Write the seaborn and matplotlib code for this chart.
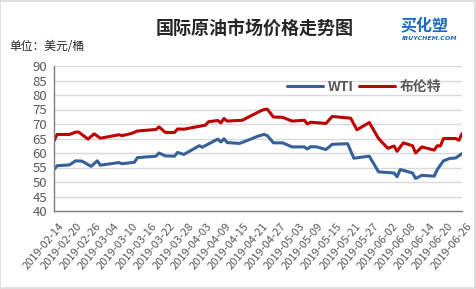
import matplotlib
matplotlib.use("Agg")
import matplotlib.pyplot as plt
import matplotlib.dates as mdates
import matplotlib.transforms as mtransforms
import seaborn as sns
import pandas as pd
from matplotlib.patches import Rectangle

# ---- data ----
wti_dates = ["2019-02-14", "2019-02-15", "2019-02-19", "2019-02-21", "2019-02-23", "2019-02-26",
             "2019-02-28", "2019-03-01", "2019-03-07", "2019-03-08", "2019-03-12", "2019-03-13",
             "2019-03-19", "2019-03-20", "2019-03-22", "2019-03-25", "2019-03-26", "2019-03-28",
             "2019-04-02", "2019-04-03", "2019-04-08", "2019-04-09", "2019-04-10", "2019-04-11",
             "2019-04-15", "2019-04-17", "2019-04-21", "2019-04-23", "2019-04-24", "2019-04-26",
             "2019-04-29", "2019-05-02", "2019-05-06", "2019-05-07", "2019-05-08", "2019-05-10",
             "2019-05-13", "2019-05-15", "2019-05-20", "2019-05-22", "2019-05-27", "2019-05-30",
             "2019-06-04", "2019-06-05", "2019-06-06", "2019-06-10", "2019-06-11", "2019-06-13",
             "2019-06-17", "2019-06-18", "2019-06-20", "2019-06-22", "2019-06-24", "2019-06-26"]
wti_values = [54.3, 55.6, 55.9, 57.3, 57.2, 55.4,
              57.3, 55.8, 56.7, 56.3, 56.8, 58.4,
              58.9, 60.0, 59.0, 58.9, 60.2, 59.5,
              62.5, 62.0, 64.8, 63.8, 64.9, 63.6,
              63.3, 64.1, 65.8, 66.4, 66.0, 63.5,
              63.5, 62.1, 62.1, 61.4, 62.2, 62.1,
              61.2, 63.0, 63.2, 58.2, 58.9, 53.5,
              53.1, 51.8, 54.3, 53.1, 51.2, 52.3,
              52.0, 54.3, 57.3, 58.1, 58.3, 59.8]

brent_dates = ["2019-02-14", "2019-02-15", "2019-02-19", "2019-02-21", "2019-02-22", "2019-02-25",
               "2019-02-27", "2019-03-01", "2019-03-07", "2019-03-08", "2019-03-11", "2019-03-13",
               "2019-03-19", "2019-03-20", "2019-03-22", "2019-03-25", "2019-03-26", "2019-03-28",
               "2019-04-04", "2019-04-05", "2019-04-08", "2019-04-09", "2019-04-10", "2019-04-11",
               "2019-04-16", "2019-04-17", "2019-04-22", "2019-04-23", "2019-04-24", "2019-04-26",
               "2019-04-29", "2019-05-02", "2019-05-06", "2019-05-07", "2019-05-08", "2019-05-13",
               "2019-05-15", "2019-05-21", "2019-05-23", "2019-05-27", "2019-05-30", "2019-06-02",
               "2019-06-04", "2019-06-05", "2019-06-07", "2019-06-10", "2019-06-11", "2019-06-13",
               "2019-06-17", "2019-06-18", "2019-06-19", "2019-06-20", "2019-06-24", "2019-06-25",
               "2019-06-26"]
brent_values = [64.2, 66.4, 66.4, 67.2, 67.2, 64.8,
                66.6, 65.1, 66.3, 66.0, 66.7, 67.6,
                68.1, 69.0, 67.1, 67.1, 68.3, 68.2,
                69.6, 70.8, 71.2, 70.4, 71.9, 71.0,
                71.3, 71.9, 74.6, 75.0, 75.1, 72.4,
                72.3, 71.0, 71.3, 70.0, 70.6, 70.2,
                72.6, 72.0, 68.0, 70.5, 65.0, 61.6,
                62.4, 60.6, 63.5, 62.5, 60.0, 62.1,
                61.0, 62.5, 62.4, 65.0, 65.0, 64.4,
                66.7]

series_names = ["WTI", "布伦特"]
series_colors = ["#36609A", "#C00000"]

title_text = "国际原油市场价格走势图"
unit_text = "单位：美元/桶"

# ---- build frame ----
df = pd.concat([
    pd.DataFrame({"date": pd.to_datetime(wti_dates), "price": wti_values, "series": series_names[0]}),
    pd.DataFrame({"date": pd.to_datetime(brent_dates), "price": brent_values, "series": series_names[1]}),
], ignore_index=True)

sns.set_style("white")
plt.rcParams["font.family"] = ["Noto Sans CJK SC", "DejaVu Sans"]

fig = plt.figure(figsize=(4.76, 2.89), dpi=100)
ax = fig.add_axes([54 / 476, 1 - 211 / 289, (462 - 54) / 476, (211 - 66) / 289])

sns.lineplot(data=df, x="date", y="price", hue="series", hue_order=series_names,
             palette=series_colors, linewidth=2.2, ax=ax, estimator=None, sort=True)

ax.set_xlim(pd.Timestamp("2019-02-14"), pd.Timestamp("2019-06-26"))
ax.set_ylim(40, 90)
ax.set_yticks(range(40, 91, 5))
ticks = pd.date_range("2019-02-14", "2019-06-26", freq="6D")
ax.set_xticks(ticks)
ax.xaxis.set_major_formatter(mdates.DateFormatter("%Y-%m-%d"))
ax.set_xlabel("")
ax.set_ylabel("")

ax.grid(axis="y", color="#D9D9D9", linewidth=1)
ax.set_axisbelow(True)
for side in ["top", "right"]:
    ax.spines[side].set_visible(False)
for side in ["left", "bottom"]:
    ax.spines[side].set_color("#7F7F7F")
    ax.spines[side].set_linewidth(1)

ax.tick_params(axis="y", length=0, pad=5, labelsize=9.5, labelcolor="#595959")
ax.tick_params(axis="x", length=0, pad=7, labelsize=8, labelcolor="#595959")
shift = mtransforms.ScaledTranslation(4 / 100, 0, fig.dpi_scale_trans)
for lab in ax.get_xticklabels():
    lab.set_rotation(50)
    lab.set_ha("right")
    lab.set_rotation_mode("anchor")
    lab.set_transform(lab.get_transform() + shift)

leg = ax.legend(loc="center", bbox_to_anchor=(0.76, 0.855), ncol=2, frameon=False,
                handlelength=2.6, handletextpad=0.3, columnspacing=0.4,
                prop={"size": 10, "weight": "bold"})
for t in leg.get_texts():
    t.set_color("#595959")

fig.text(255 / 476, 1 - 28 / 289, title_text, ha="center", va="center",
         fontsize=13, fontweight="bold", color="#262626")
fig.text(9 / 476, 1 - 46 / 289, unit_text, ha="left", va="center",
         fontsize=8.5, color="#262626")
fig.text(424 / 476, 1 - 26 / 289, "买化塑", ha="center", va="center",
         fontsize=11.5, fontweight="bold", color="#1E6BC6", style="italic")
fig.text(430 / 476, 1 - 38 / 289, "IBUYCHEM.COM", ha="center", va="center",
         fontsize=4.5, fontweight="bold", color="#1E6BC6", style="italic", family="DejaVu Sans")

fig.patches.append(Rectangle((0.001, 0.002), 0.997, 0.995, transform=fig.transFigure,
                             fill=False, edgecolor="#D9D9D9", linewidth=1.2))

fig.savefig("out.png", dpi=100)
